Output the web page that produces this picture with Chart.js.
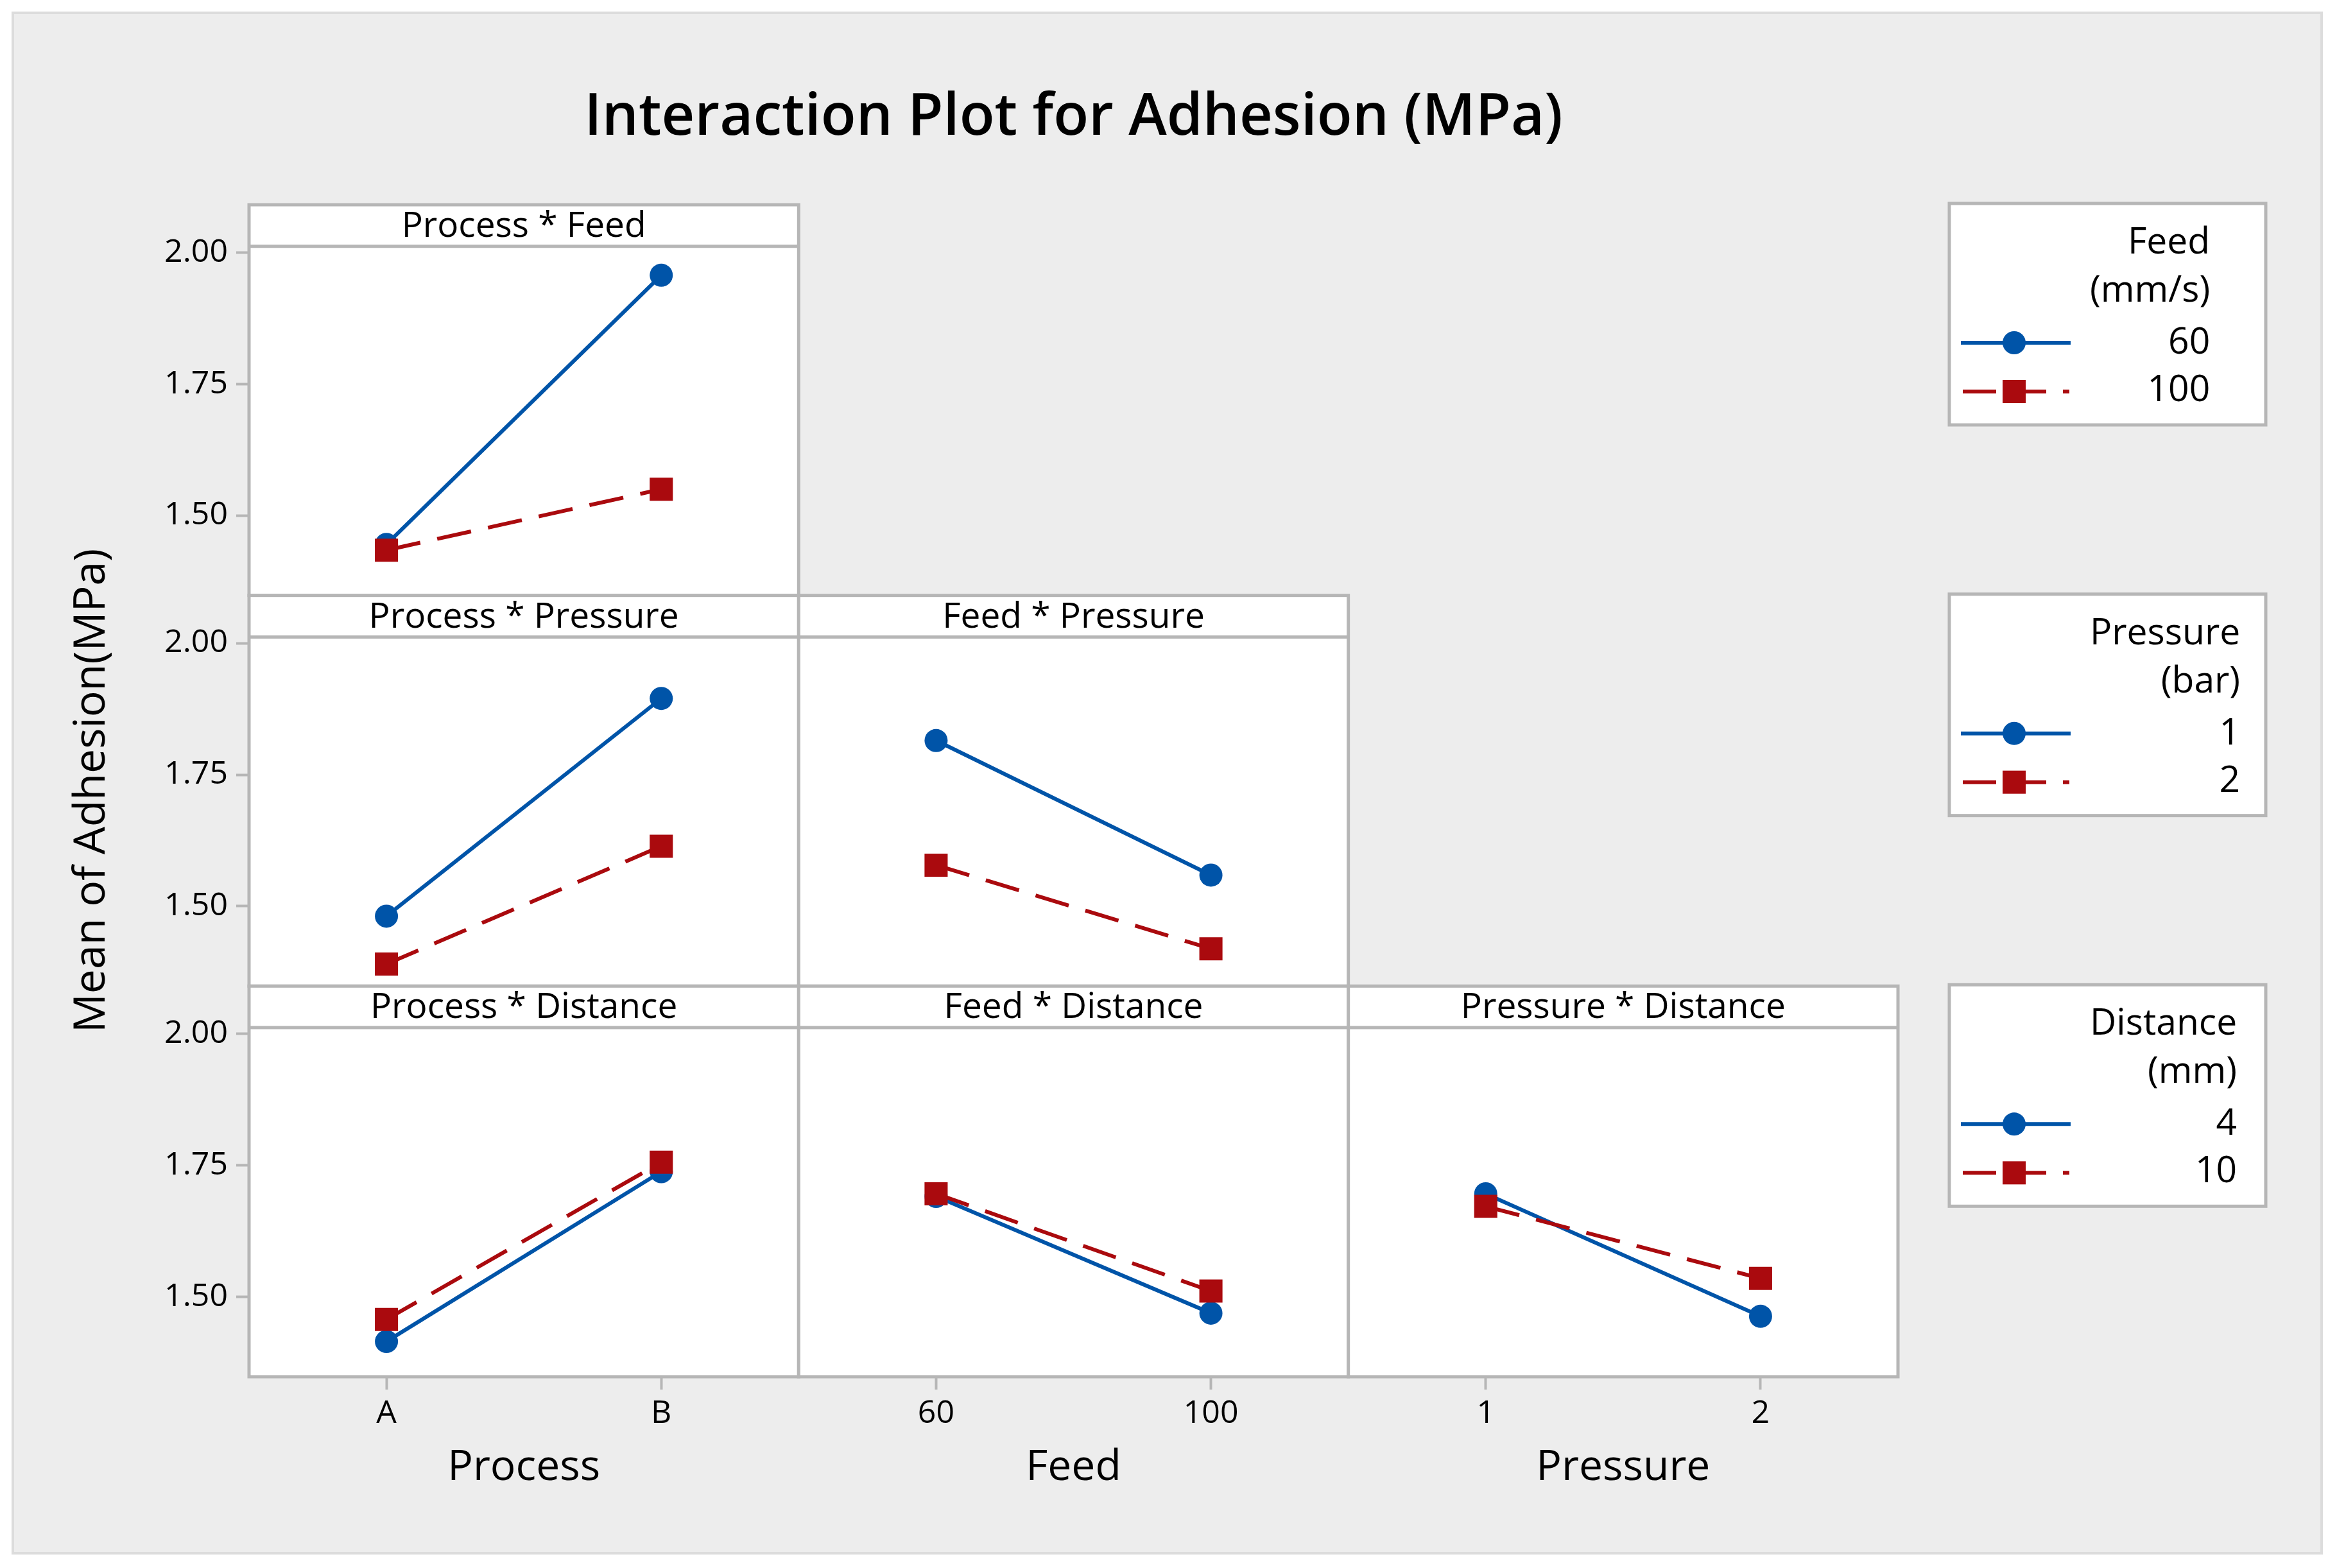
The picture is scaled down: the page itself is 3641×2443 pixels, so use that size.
<!DOCTYPE html>
<html>
<head>
<meta charset="utf-8">
<title>Interaction Plot for Adhesion (MPa)</title>
<script src="https://cdn.jsdelivr.net/npm/chart.js@4.4.1/dist/chart.umd.min.js"></script>
<style>
	html, body { margin: 0; padding: 0; background: #ffffff; }
	#wrap { width: 3641px; height: 2443px; }
</style>
</head>
<body>
<div id="wrap"><canvas id="interactionChart" width="3641" height="2443"></canvas></div>
<script>
// factor levels, used as tick labels and legend entries
var processLevels = ['A', 'B'];
var feedLevels = ['60', '100'];
var pressureLevels = ['1', '2'];
var distanceLevels = ['4', '10'];
var yTicks = [1.50, 1.75, 2.00];

// means of adhesion (first level = blue, second = red)
var processFeed60 = [1.445, 1.957];
var processFeed100 = [1.434, 1.550];
var processPressure1 = [1.481, 1.895];
var processPressure2 = [1.390, 1.614];
var feedPressure1 = [1.815, 1.559];
var feedPressure2 = [1.578, 1.419];
var processDistance4 = [1.415, 1.738];
var processDistance10 = [1.457, 1.756];
var feedDistance4 = [1.691, 1.469];
var feedDistance10 = [1.696, 1.511];
var pressureDistance4 = [1.696, 1.463];
var pressureDistance10 = [1.672, 1.535];

var BLUE = '#0054a8';
var RED = '#aa0a0e';
var FRAME = '#b6b6b6';
var FONT = "'Open Sans', 'Noto Sans', sans-serif";

// one entry per panel: which column (x axis) and row (y axis) it lives in
var panels = [
	{ title: 'Process * Feed', x: 'x1', y: 'y1', first: processFeed60, second: processFeed100 },
	{ title: 'Process * Pressure', x: 'x1', y: 'y2', first: processPressure1, second: processPressure2 },
	{ title: 'Feed * Pressure', x: 'x2', y: 'y2', first: feedPressure1, second: feedPressure2 },
	{ title: 'Process * Distance', x: 'x1', y: 'y3', first: processDistance4, second: processDistance10 },
	{ title: 'Feed * Distance', x: 'x2', y: 'y3', first: feedDistance4, second: feedDistance10 },
	{ title: 'Pressure * Distance', x: 'x3', y: 'y3', first: pressureDistance4, second: pressureDistance10 }
];

var legends = [
	{ y: 'y1', title: ['Feed', '(mm/s)'], levels: feedLevels },
	{ y: 'y2', title: ['Pressure', '(bar)'], levels: pressureLevels },
	{ y: 'y3', title: ['Distance', '(mm)'], levels: distanceLevels }
];

// share of each row taken by the panel header strip
var headerShare = 65 / 611;

var datasets = [];
panels.forEach(function(p){
	datasets.push({
		label: p.title + ' (2)',
		data: p.second,
		xAxisID: p.x, yAxisID: p.y,
		order: 0,
		borderColor: RED, backgroundColor: RED,
		borderWidth: 6, borderDash: [54, 27],
		pointStyle: 'rect', pointRadius: 25.5, pointHoverRadius: 25.5,
		pointBackgroundColor: RED, pointBorderWidth: 0,
		tension: 0, fill: false
	});
	datasets.push({
		label: p.title + ' (1)',
		data: p.first,
		xAxisID: p.x, yAxisID: p.y,
		order: 1,
		borderColor: BLUE, backgroundColor: BLUE,
		borderWidth: 6,
		pointStyle: 'circle', pointRadius: 18, pointHoverRadius: 18,
		pointBackgroundColor: BLUE, pointBorderWidth: 0,
		tension: 0, fill: false
	});
});

// left stack is laid out by descending weight, so the top row gets the largest
function yScale(weight, withTitle){
	return {
		type: 'linear', position: 'left', stack: 'rows', stackWeight: 1, weight: weight,
		min: 1.348, max: 2.091,
		afterBuildTicks: function(s){ s.ticks = yTicks.map(function(v){ return { value: v }; }); },
		afterFit: function(s){ s.width = 368; },
		border: { display: false },
		grid: { drawOnChartArea: false, drawTicks: true, tickLength: 20, tickWidth: 4, tickColor: FRAME },
		ticks: { autoSkip: false, padding: 13, color: '#000', font: { size: 50 },
			callback: function(v){ return Number(v).toFixed(2); } },
		title: { display: withTitle, text: 'Mean of Adhesion(MPa)', color: '#000',
			font: { size: 68 }, padding: { top: 83, bottom: 0 } }
	};
}

function xScale(labels, weight, title){
	return {
		type: 'category', labels: labels, offset: true, position: 'bottom',
		stack: 'cols', stackWeight: 1, weight: weight,
		afterFit: function(s){ s.height = 298; },
		border: { display: false },
		grid: { drawOnChartArea: false, offset: false, drawTicks: true, tickLength: 20, tickWidth: 4, tickColor: FRAME },
		ticks: { autoSkip: false, maxRotation: 0, padding: 8, color: '#000', font: { size: 50 } },
		title: { display: true, text: title, color: '#000', font: { size: 66 }, padding: { top: 0, bottom: 116 } }
	};
}

var panelPlugin = {
	id: 'panels',
	beforeDraw: function(chart){
		var ctx = chart.ctx;
		ctx.save();
		ctx.fillStyle = '#ffffff';
		ctx.fillRect(0, 0, chart.width, chart.height);
		ctx.fillStyle = '#ededed';
		ctx.fillRect(20, 20, 3597, 2400);
		ctx.strokeStyle = '#dcdcdc';
		ctx.lineWidth = 4;
		ctx.strokeRect(20, 20, 3597, 2400);
		ctx.restore();
	},
	beforeDatasetsDraw: function(chart){
		var ctx = chart.ctx;
		ctx.save();
		panels.forEach(function(p){
			var xs = chart.scales[p.x], ys = chart.scales[p.y];
			var l = xs.left, r = xs.right, t = ys.top, b = ys.bottom;
			var h = (b - t) * headerShare;
			ctx.fillStyle = '#ffffff';
			ctx.fillRect(l, t, r - l, b - t);
			ctx.strokeStyle = FRAME;
			ctx.lineWidth = 5;
			ctx.strokeRect(l, t, r - l, b - t);
			ctx.beginPath();
			ctx.moveTo(l, t + h);
			ctx.lineTo(r, t + h);
			ctx.stroke();
			ctx.fillStyle = '#000';
			ctx.font = '500 55px ' + FONT;
			ctx.textAlign = 'center';
			ctx.textBaseline = 'middle';
			ctx.fillText(p.title, (l + r) / 2, t + h / 2 + 2);
		});
		ctx.restore();
	},
	afterDraw: function(chart){
		var ctx = chart.ctx;
		ctx.save();
		legends.forEach(function(lg){
			var top = chart.scales[lg.y].top - 2;
			var left = 3037, right = 3530, height = 345;
			ctx.fillStyle = '#ffffff';
			ctx.fillRect(left, top, right - left, height);
			ctx.strokeStyle = FRAME;
			ctx.lineWidth = 5;
			ctx.strokeRect(left, top, right - left, height);

			// texts: right aligned in a column that starts at a fixed left edge
			ctx.font = '500 57px ' + FONT;
			ctx.fillStyle = '#000';
			var lines = lg.title.concat(lg.levels);
			var w = 0;
			lines.forEach(function(s){ w = Math.max(w, ctx.measureText(s).width); });
			var textRight = 3256 + w;
			var baselines = [78, 153, 234, 308];
			ctx.textAlign = 'right';
			ctx.textBaseline = 'alphabetic';
			lines.forEach(function(s, i){ ctx.fillText(s, textRight, top + baselines[i]); });

			// samples
			var yb = top + 217, yr = top + 293, cx = 3138;
			ctx.strokeStyle = BLUE;
			ctx.lineWidth = 6;
			ctx.setLineDash([]);
			ctx.beginPath(); ctx.moveTo(3055, yb); ctx.lineTo(3226, yb); ctx.stroke();
			ctx.fillStyle = BLUE;
			ctx.beginPath(); ctx.arc(cx, yb, 18, 0, Math.PI * 2); ctx.fill();
			ctx.strokeStyle = RED;
			ctx.setLineDash([52, 26]);
			ctx.beginPath(); ctx.moveTo(3058, yr); ctx.lineTo(3224, yr); ctx.stroke();
			ctx.setLineDash([]);
			ctx.fillStyle = RED;
			ctx.fillRect(cx - 18, yr - 18, 36, 36);
		});
		ctx.restore();
	}
};

Chart.defaults.font.family = FONT;
Chart.defaults.font.weight = 500;
Chart.defaults.color = '#000';

var ctx = document.getElementById('interactionChart').getContext('2d');
var chart = new Chart(ctx, {
	type: 'line',
	data: { datasets: datasets },
	options: {
		responsive: false,
		animation: false,
		devicePixelRatio: 1,
		layout: { padding: { left: 20, right: 684, top: 0, bottom: 0 } },
		plugins: {
			legend: { display: false },
			tooltip: { enabled: false },
			title: {
				display: true, text: 'Interaction Plot for Adhesion (MPa)', color: '#000',
				fullSize: false, align: 'center',
				font: { size: 90, weight: 600 },
				padding: { top: 130, bottom: 81 }
			}
		},
		scales: {
			y1: yScale(3, false),
			y2: yScale(2, true),
			y3: yScale(1, false),
			x1: xScale(processLevels, 1, 'Process'),
			x2: xScale(feedLevels, 2, 'Feed'),
			x3: xScale(pressureLevels, 3, 'Pressure')
		}
	},
	plugins: [panelPlugin]
});
</script>
</body>
</html>
